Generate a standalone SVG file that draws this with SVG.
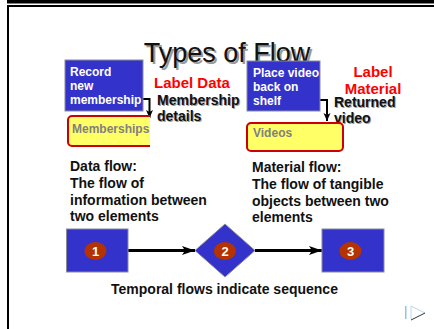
<svg xmlns="http://www.w3.org/2000/svg" width="434" height="329" viewBox="0 0 434 329">
<defs>
<style>
.bx{fill:#3333CC;stroke:#8A8A9A;stroke-width:1}
.wt{font-family:"Liberation Sans",Arial,sans-serif;font-weight:bold;font-size:12px;fill:#FFFFFF}
.gt{font-family:"Liberation Sans",Arial,sans-serif;font-weight:bold;font-size:12px;fill:#808080}
.bt{font-family:"Liberation Sans",Arial,sans-serif;font-weight:bold;font-size:14px;fill:#111111}
.sh{font-family:"Liberation Sans",Arial,sans-serif;font-weight:bold;font-size:14px;fill:#A0A0A0}
.rt{font-family:"Liberation Sans",Arial,sans-serif;font-weight:bold;font-size:15px;fill:#FF0000}
.yl{fill:#FFFF66;stroke:#CC0000;stroke-width:2}
.cn{fill:none;stroke:#000000}
.ci{fill:#B53300}
.nt{font-family:"Liberation Sans",Arial,sans-serif;font-weight:bold;font-size:13px;fill:#FFFFFF;text-anchor:middle}
</style>
<marker id="ah" markerUnits="userSpaceOnUse" markerWidth="14" markerHeight="10" refX="13" refY="4.5" orient="auto">
<path d="M0,0 L13,4.5 L0,9 L3,4.5 z" fill="#000"/>
</marker>
<marker id="as" markerUnits="userSpaceOnUse" markerWidth="8" markerHeight="10" refX="8" refY="3.5" orient="auto">
<path d="M0,0 L8,3.5 L0,7 L2,3.5 z" fill="#000"/>
</marker>
<clipPath id="cl1"><rect x="60" y="110" width="90" height="45"/></clipPath>
</defs>
<rect x="0" y="0" width="434" height="329" fill="#FFFFFF"/>
<g id="frame">
<rect x="7" y="0" width="427" height="3.5" fill="#000"/>
<rect x="7" y="5" width="427" height="2" fill="#000"/>
<rect x="7" y="5" width="2" height="324" fill="#000"/>
</g>
<g id="title">
<text x="229" y="64" text-anchor="middle" font-family="'Liberation Sans',Arial,sans-serif" font-size="27" fill="#9A9A9A">Types of Flow</text>
<text x="227" y="62" text-anchor="middle" font-family="'Liberation Sans',Arial,sans-serif" font-size="27" fill="#111111">Types of Flow</text>
</g>
<g id="connectors">
<path class="cn" stroke-width="2" d="M143,99 H149.5 V118" marker-end="url(#as)"/>
<path class="cn" stroke-width="2" d="M320,100 H327 V121" marker-end="url(#as)"/>
<line class="cn" stroke-width="3" x1="128" y1="250.5" x2="195" y2="250.5" marker-end="url(#ah)"/>
<line class="cn" stroke-width="3" x1="255" y1="250.5" x2="322" y2="250.5" marker-end="url(#ah)"/>
</g>
<g id="record">
<rect class="bx" x="65" y="60" width="78" height="51"/>
<text class="wt" x="70" y="76">Record</text>
<text class="wt" x="70" y="90">new</text>
<text class="wt" x="70" y="104">membership</text>
</g>
<g id="place">
<rect class="bx" x="247" y="61" width="73" height="50"/>
<text class="wt" x="253" y="77">Place video</text>
<text class="wt" x="253" y="91">back on</text>
<text class="wt" x="253" y="105">shelf</text>
</g>
<g id="label-data">
<text class="rt" x="154" y="88">Label Data</text>
</g>
<g id="label-material">
<text class="rt" x="373" y="77" text-anchor="middle">Label</text>
<text class="rt" x="373" y="93.5" text-anchor="middle">Material</text>
</g>
<g id="membership-details">
<text class="sh" x="158" y="106">Membership</text>
<text class="sh" x="158" y="122">details</text>
<text class="bt" x="157" y="105">Membership</text>
<text class="bt" x="157" y="121">details</text>
</g>
<g id="returned-video">
<text class="sh" x="335" y="108">Returned</text>
<text class="sh" x="335" y="124">video</text>
<text class="bt" x="334" y="107">Returned</text>
<text class="bt" x="334" y="123">video</text>
</g>
<g id="memberships">
<rect class="yl" x="68" y="116" width="95" height="30" rx="4" clip-path="url(#cl1)"/>
<text class="gt" x="72" y="133">Memberships</text>
</g>
<g id="videos">
<rect class="yl" x="247" y="123" width="96" height="28" rx="4"/>
<text class="gt" x="253" y="137">Videos</text>
</g>
<g id="data-flow-text">
<text class="bt" x="70" y="171">Data flow:</text>
<text class="bt" x="70" y="188">The flow of</text>
<text class="bt" x="70" y="205">information between</text>
<text class="bt" x="70" y="221">two elements</text>
</g>
<g id="material-flow-text">
<text class="bt" x="252" y="172">Material flow:</text>
<text class="bt" x="252" y="189">The flow of tangible</text>
<text class="bt" x="252" y="206">objects between two</text>
<text class="bt" x="252" y="222">elements</text>
</g>
<g id="step1">
<rect class="bx" x="66.5" y="229" width="61.5" height="43"/>
<ellipse class="ci" cx="95.5" cy="251" rx="11" ry="9"/>
<text class="nt" x="95.5" y="256">1</text>
</g>
<g id="step2">
<polygon class="bx" points="225,224 255,250.5 225,277 195,250.5"/>
<ellipse class="ci" cx="225" cy="251" rx="11" ry="9"/>
<text class="nt" x="225" y="256">2</text>
</g>
<g id="step3">
<rect class="bx" x="322" y="229" width="62" height="43"/>
<ellipse class="ci" cx="350.5" cy="251" rx="11" ry="9"/>
<text class="nt" x="350.5" y="256">3</text>
</g>
<g id="caption">
<text class="bt" x="224.5" y="294" text-anchor="middle">Temporal flows indicate sequence</text>
</g>
<g id="nav">
<rect x="405" y="306" width="1.5" height="13" fill="#8FC3E8"/>
<path d="M411,306 L425,313" stroke="#B8D8F0" stroke-width="1" fill="none"/>
<path d="M411,306 L411,319" stroke="#B8D8F0" stroke-width="1" fill="none"/>
<path d="M411,320 L425,313" stroke="#333" stroke-width="1" fill="none"/>
</g>
</svg>
